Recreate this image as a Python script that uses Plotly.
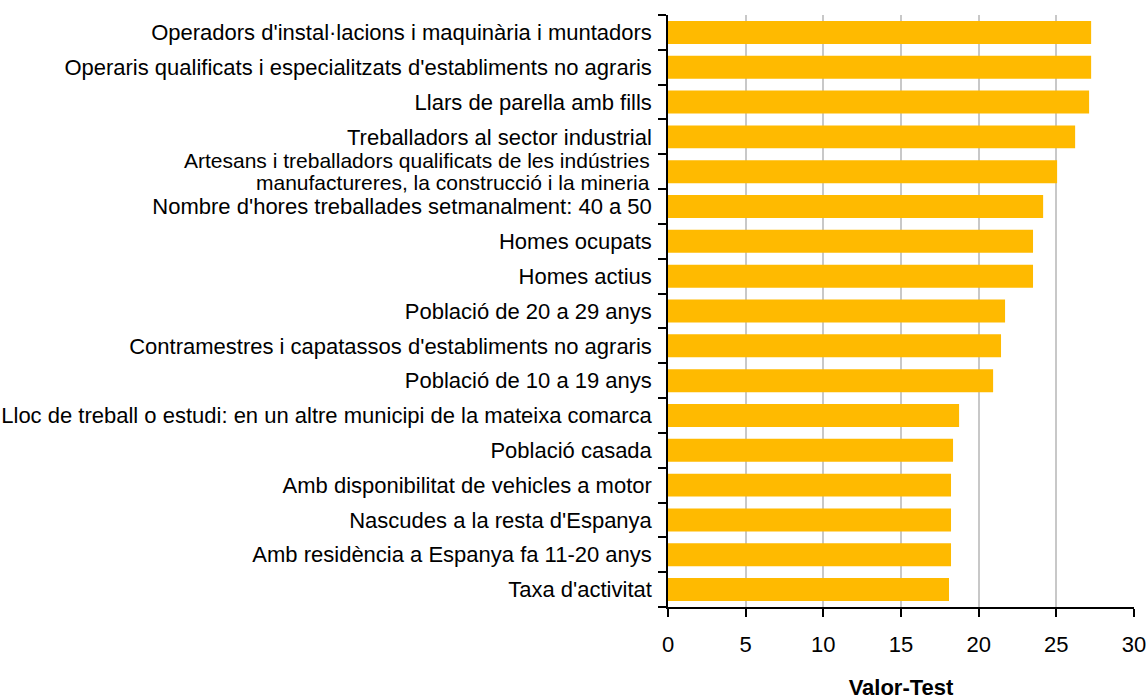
import plotly.graph_objects as go

categories = [
    "Operadors d'instal·lacions i maquinària i muntadors",
    "Operaris qualificats i especialitzats d'establiments no agraris",
    "Llars de parella amb fills",
    "Treballadors al sector industrial",
    "Artesans i treballadors qualificats de les indústries<br>manufactureres, la construcció i la mineria",
    "Nombre d'hores treballades setmanalment: 40 a 50",
    "Homes ocupats",
    "Homes actius",
    "Població de 20 a 29 anys",
    "Contramestres i capatassos d'establiments no agraris",
    "Població de 10 a 19 anys",
    "Lloc de treball o estudi: en un altre municipi de la mateixa comarca",
    "Població casada",
    "Amb disponibilitat de vehicles a motor",
    "Nascudes a la resta d'Espanya",
    "Amb residència a Espanya fa 11-20 anys",
    "Taxa d'activitat",
]
values = [27.24, 27.24, 27.11, 26.21, 25.05, 24.15, 23.5, 23.5, 21.7,
          21.44, 20.93, 18.74, 18.35, 18.22, 18.22, 18.22, 18.09]
x_ticks = [0, 5, 10, 15, 20, 25, 30]
x_title = "Valor-Test"

FONT = "Liberation Sans, Arial, sans-serif"
FS = 22

fig = go.Figure(go.Bar(
    x=values, y=categories, orientation="h",
    marker=dict(color="#FFBA00", line=dict(width=0)),
))

# single-line labels as tick text; multi-line labels drawn with tighter spacing
ticktext = [c if "<br>" not in c else "" for c in categories]
annotations = []
LS = 22
for c in categories:
    if "<br>" in c:
        lines = c.split("<br>")
        n = len(lines)
        for i, ln in enumerate(lines):
            annotations.append(dict(
                text=ln, xref="paper", x=0, yref="y", y=c,
                xanchor="right", yanchor="middle", showarrow=False,
                xshift=-16, yshift=(n - 1) * LS / 2 - i * LS,
                font=dict(family=FONT, size=21, color="black"),
            ))

fig.update_layout(
    width=1146, height=700,
    margin=dict(l=668, r=12, t=15, b=93),
    plot_bgcolor="white", paper_bgcolor="white",
    bargap=0.34,
    showlegend=False,
    font=dict(family=FONT, size=FS, color="black"),
    annotations=annotations,
)
fig.update_xaxes(
    range=[0, 30], tickvals=x_ticks,
    automargin=False,
    showgrid=True, gridcolor="#c8c8c8", gridwidth=2,
    showline=True, linecolor="black", linewidth=2,
    ticks="outside", ticklen=8, tickwidth=2, tickcolor="black",
    ticklabelstandoff=9, ticklabeloverflow="allow",
    zeroline=False,
    tickfont=dict(size=FS, family=FONT),
    title=dict(text="<b>" + x_title + "</b>", font=dict(size=FS, family=FONT), standoff=52),
)
fig.update_yaxes(
    autorange="reversed",
    automargin=False,
    tickvals=categories, ticktext=ticktext,
    showline=True, linecolor="black", linewidth=1.5,
    ticks="outside", ticklen=8, tickwidth=1.5, tickcolor="black",
    tickson="boundaries",
    ticklabelstandoff=10,
    showgrid=False,
    tickfont=dict(size=FS, family=FONT),
)

fig.write_html("out.html", config={"displayModeBar": False},
               post_script="document.body.style.margin='0';")
